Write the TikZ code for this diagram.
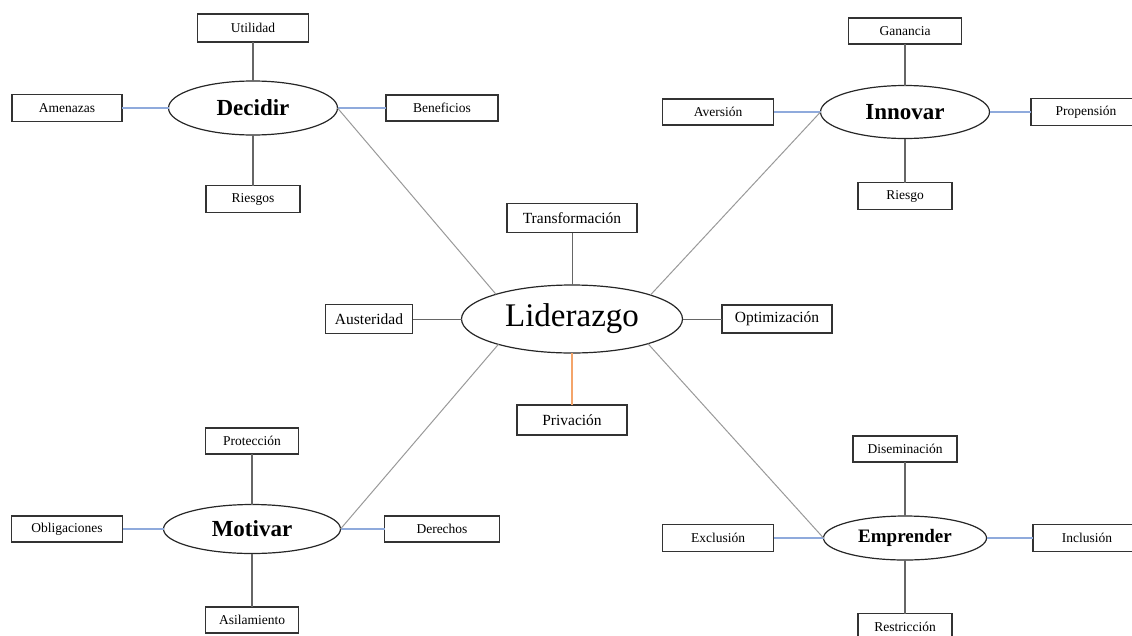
\documentclass[tikz,border=0pt]{standalone}
\usepackage{fontspec}
\setmainfont{Liberation Serif}
\usetikzlibrary{shapes.geometric}

\definecolor{linkblue}{HTML}{8FAADC}
\definecolor{linkorange}{HTML}{F4A46A}

\tikzset{
  item/.style={draw=black!80, line width=1.2pt, minimum height=27pt, inner sep=0pt, outer sep=0pt,
    font=\fontsize{13.5}{16}\selectfont},
  core/.style={item, minimum height=29pt, font=\fontsize{15.5}{18}\selectfont},
  hub/.style={draw=black!85, ellipse, line width=1.2pt, inner sep=0pt, outer sep=0pt,
    font=\fontsize{23}{26}\selectfont\bfseries},
  spoke/.style={draw=black!60, line width=1.2pt},
  side/.style={draw=linkblue, line width=1.1pt},
  diag/.style={draw=black!40, line width=1pt}
}

\begin{document}
\begin{tikzpicture}[x=1pt, y=-1pt]
  \useasboundingbox (0,0) rectangle (1132,635);

  % centre
  \node[hub, minimum width=221pt, minimum height=68pt, font=\fontsize{33}{37}\selectfont] (lid) at (572,319) {Liderazgo};
  \node[core, minimum width=130pt] (transf) at (572,218) {Transformación};
  \node[core, minimum width=87pt] (auster) at (369,319) {Austeridad};
  \node[core, minimum width=110pt, minimum height=28pt] (optim) at (777,319) {Optimización};
  \node[core, minimum width=110pt, minimum height=30pt] (priv) at (572,420) {Privación};
  \draw[spoke, line width=1pt] (lid) -- (transf);
  \draw[spoke, line width=1pt] (lid) -- (auster);
  \draw[spoke, line width=1pt] (lid) -- (optim);
  \draw[draw=linkorange, line width=1.2pt] (lid) -- (priv);

  % Decidir
  \node[hub, minimum width=169pt, minimum height=54pt] (decidir) at (253,108) {Decidir};
  \node[item, minimum width=111pt, minimum height=28pt] (utilidad) at (253,28) {Utilidad};
  \node[item, minimum width=110pt] (amenazas) at (67,108) {Amenazas};
  \node[item, minimum width=112pt, minimum height=26pt] (benef) at (442,108) {Beneficios};
  \node[item, minimum width=94pt] (riesgos) at (253,199) {Riesgos};
  \draw[spoke] (decidir) -- (utilidad);
  \draw[spoke] (decidir) -- (riesgos);
  \draw[side] (decidir) -- (amenazas);
  \draw[side] (decidir) -- (benef);

  % Innovar
  \node[hub, minimum width=169pt, minimum height=53pt] (innovar) at (905,112) {Innovar};
  \node[item, minimum width=113pt, minimum height=26pt] (ganancia) at (905,31) {Ganancia};
  \node[item, minimum width=111pt, minimum height=26pt] (aversion) at (718,112) {Aversión};
  \node[item, minimum width=110pt] (propension) at (1086,112) {Propensión};
  \node[item, minimum width=94pt] (riesgo) at (905,196) {Riesgo};
  \draw[spoke] (innovar) -- (ganancia);
  \draw[spoke] (innovar) -- (riesgo);
  \draw[side] (innovar) -- (aversion);
  \draw[side] (innovar) -- (propension);

  % Motivar
  \node[hub, minimum width=177pt, minimum height=49pt] (motivar) at (252,529) {Motivar};
  \node[item, minimum width=93pt, minimum height=26pt] (proteccion) at (252,441) {Protección};
  \node[item, minimum width=111pt, minimum height=26pt] (oblig) at (67,529) {Obligaciones};
  \node[item, minimum width=115pt, minimum height=26pt] (derechos) at (442,529) {Derechos};
  \node[item, minimum width=93pt, minimum height=26pt] (aislam) at (252,620) {Asilamiento};
  \draw[spoke] (motivar) -- (proteccion);
  \draw[spoke] (motivar) -- (aislam);
  \draw[side] (motivar) -- (oblig);
  \draw[side] (motivar) -- (derechos);

  % Emprender
  \node[hub, minimum width=163pt, minimum height=44pt, font=\fontsize{19}{22}\selectfont\bfseries] (emprender) at (905,538) {Emprender};
  \node[item, minimum width=104pt, minimum height=26pt] (disem) at (905,449) {Diseminación};
  \node[item, minimum width=111pt] (exclusion) at (718,538) {Exclusión};
  \node[item, minimum width=108pt] (inclusion) at (1087,538) {Inclusión};
  \node[item, minimum width=94pt] (restric) at (905,627) {Restricción};
  \draw[spoke] (emprender) -- (disem);
  \draw[spoke] (emprender) -- (restric);
  \draw[side] (emprender) -- (exclusion);
  \draw[side] (emprender) -- (inclusion);

  % ramas
  \draw[diag] (decidir.east) -- (lid.162);
  \draw[diag] (innovar.west) -- (lid.17);
  \draw[diag] (motivar.east) -- (lid.199);
  \draw[diag] (emprender.west) -- (lid.342);
\end{tikzpicture}
\end{document}
